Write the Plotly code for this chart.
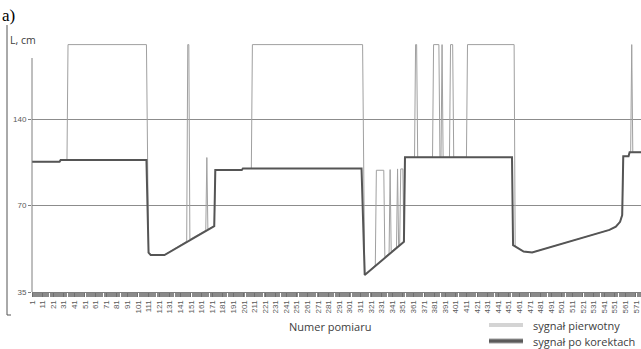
import math
import plotly.graph_objects as go

orig_idx = [1, 27, 28, 34, 35, 109, 111, 113, 126, 147, 148, 149, 150, 165, 166, 167, 173, 174,
            199, 200, 208, 209, 313, 315, 325, 326, 333, 334, 338, 339, 340, 345, 346, 347, 348,
            349, 351, 352, 353, 362, 363, 364, 365, 379, 380, 385, 386, 387, 388, 389, 395, 396,
            398, 399, 411, 412, 456, 457, 465, 473, 546, 552, 556, 558, 559, 564, 565, 566, 567,
            568, 576]
orig_val = [99.6, 99.6, 100.9, 100.9, 255, 255, 48.0, 47.1, 47.1, 52.6, 255, 255, 53.4, 57.4, 103,
            57.9, 59.4, 93.2, 93.2, 94.3, 94.3, 255, 255, 40.1, 43.4, 93, 93, 46.4, 47.7, 93.5, 48.4,
            50.1, 94, 50.7, 51.1, 94, 94, 52.4, 103.2, 103.2, 255, 255, 103.2, 103.2, 255, 255, 103.2,
            103.2, 255, 103.2, 103.2, 255, 255, 103.2, 103.2, 255, 255, 50.5, 48.4, 48.1, 57.6, 59.1,
            61.5, 64.9, 104, 104, 107.5, 107.5, 255, 107.5, 107.5]

corr_idx = [1, 27, 28, 109, 111, 113, 126, 173, 174, 199, 200, 312, 315, 352, 353, 454, 455, 465,
            473, 546, 552, 556, 558, 559, 564, 565, 576]
corr_val = [99.6, 99.6, 100.9, 100.9, 48.0, 47.1, 47.1, 59.4, 93.2, 93.2, 94.3, 94.3, 40.1, 52.4,
            103.2, 103.2, 51.0, 48.4, 48.1, 57.6, 59.1, 61.5, 64.9, 104, 104, 107.5, 107.5]

x_tick_vals = list(range(1, 572, 10))
x_tick_text = [str(v) for v in x_tick_vals]
y_tick_vals = [35, 70, 140]
y_tick_text = ["35", "70", "140"]

series_names = ["sygnał pierwotny", "sygnał po korektach"]

# ---- geometry helpers (pixel -> paper) ----
W, H = 641, 349
L, R, T, B = 32, 0, 40, 57
PW, PH = W - L - R, H - T - B


def px(xp):
    return (xp - L) / PW


def py(yp):
    return (H - B - yp) / PH


fig = go.Figure()
fig.add_trace(go.Scatter(x=orig_idx, y=orig_val, mode="lines", name=series_names[0],
                         line=dict(color="#a0a0a0", width=1), showlegend=False))
fig.add_trace(go.Scatter(x=corr_idx, y=corr_val, mode="lines", name=series_names[1],
                         line=dict(color="#555555", width=2), showlegend=False))

txt = "#404040"
fig.update_layout(
    width=W, height=H,
    margin=dict(l=L, r=R, t=T, b=B, pad=0),
    paper_bgcolor="white", plot_bgcolor="white",
    font=dict(family="Open Sans", color=txt),
    xaxis=dict(range=[1, 1 + PW / 1.0596], tickmode="array", tickvals=x_tick_vals,
               ticktext=x_tick_text, tickangle=-90, ticks="outside", ticklen=4,
               tickcolor="#6e6e6e", tickfont=dict(family="Liberation Sans", size=8, color="#595959"),
               showline=True, linecolor="#7f7f7f", linewidth=1, showgrid=False, zeroline=False,
               minor=dict(tickmode="linear", tick0=1, dtick=1, ticks="outside", ticklen=4,
                          tickcolor="#8a8a8a", showgrid=False)),
    yaxis=dict(type="log", range=[math.log10(35), math.log10(264.6)], tickmode="array",
               tickvals=y_tick_vals, ticktext=y_tick_text, ticks="outside", ticklen=3,
               tickcolor="#7f7f7f", showgrid=True, gridcolor="#8c8c8c", gridwidth=1,
               showline=False, zeroline=False,
               tickfont=dict(family="Liberation Sans", size=8, color="#595959")),
    showlegend=False,
)

shapes = [
    # y axis line (shorter than plot area)
    dict(type="line", xref="paper", yref="paper", x0=0, x1=0, y0=0, y1=py(58),
         line=dict(color="#7f7f7f", width=1)),
    # left bracket
    dict(type="line", xref="paper", yref="paper", x0=px(7), x1=px(7), y0=py(25), y1=py(315),
         line=dict(color="#555555", width=1)),
    dict(type="line", xref="paper", yref="paper", x0=px(7), x1=px(11), y0=py(315), y1=py(315),
         line=dict(color="#555555", width=1)),
    # legend samples
    dict(type="line", xref="paper", yref="paper", x0=px(489), x1=px(523), y0=py(325), y1=py(325),
         line=dict(color="#d4d4d4", width=4)),
    dict(type="line", xref="paper", yref="paper", x0=px(489), x1=px(523), y0=py(341), y1=py(341),
         line=dict(color="#a0a0a0", width=5)),
    dict(type="line", xref="paper", yref="paper", x0=px(489), x1=px(523), y0=py(341), y1=py(341),
         line=dict(color="#5a5a5a", width=3)),
]
fig.update_layout(shapes=shapes)

ann = [
    dict(text="a)", x=px(0), y=py(16), xanchor="left", yanchor="middle",
         font=dict(family="Liberation Serif", size=17, color="black")),
    dict(text="L, cm", x=px(22.5), y=py(40), xanchor="center", yanchor="middle",
         font=dict(size=10.5, color=txt)),
    dict(text="Numer pomiaru", x=px(330), y=py(326), xanchor="center", yanchor="middle",
         font=dict(size=11, color=txt)),
    dict(text=series_names[0], x=px(531), y=py(325), xanchor="left", yanchor="middle",
         font=dict(size=11, color=txt)),
    dict(text=series_names[1], x=px(531), y=py(341), xanchor="left", yanchor="middle",
         font=dict(size=11, color=txt)),
]
for a in ann:
    a.update(xref="paper", yref="paper", showarrow=False)
fig.update_layout(annotations=ann)

fig.write_html("out.html", config={"displayModeBar": False},
               post_script="document.body.style.margin='0px';")
